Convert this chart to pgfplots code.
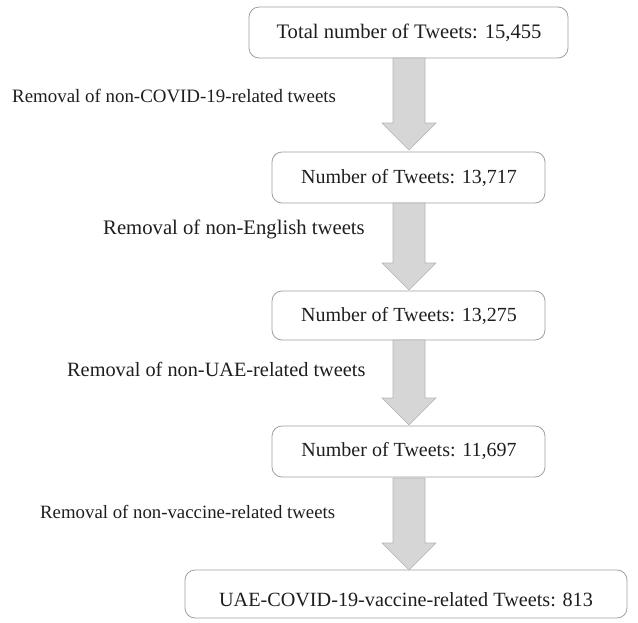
\documentclass[border=0pt]{standalone}
\usepackage{fontspec}
\setmainfont{Liberation Serif}
\usepackage{pgfplots}
\pgfplotsset{compat=1.18}
\definecolor{arrfill}{HTML}{D6D6D6}
\definecolor{arredge}{HTML}{B4B4B4}
\definecolor{boxedge}{HTML}{A0A0A0}
\definecolor{txt}{HTML}{1E1E1E}
\tikzset{lbl/.style={font=\fontsize{#1}{24}\selectfont, text=txt}, lbl/.default=20}
\begin{document}
\begin{tikzpicture}
\begin{axis}[
  width=638pt, height=622pt, scale only axis,
  xmin=0, xmax=638, ymin=0, ymax=622, y dir=reverse,
  axis lines=none, clip=false,
]
% boxes
\draw[boxedge, rounded corners=10pt, line width=0.8pt] (axis cs:249,7) rectangle (axis cs:568,58);
\draw[boxedge, rounded corners=10pt, line width=0.8pt] (axis cs:272,152) rectangle (axis cs:545,203);
\draw[boxedge, rounded corners=10pt, line width=0.8pt] (axis cs:272,291) rectangle (axis cs:545,340);
\draw[boxedge, rounded corners=10pt, line width=0.8pt] (axis cs:272,426) rectangle (axis cs:545,477);
\draw[boxedge, rounded corners=10pt, line width=0.8pt] (axis cs:185,570) rectangle (axis cs:627,618);
% arrows
\addplot[fill=arrfill, draw=arredge, line width=0.6pt] coordinates {(393,58) (425,58) (425,123) (436,123) (409,150) (382,123) (393,123) (393,58)};
\addplot[fill=arrfill, draw=arredge, line width=0.6pt] coordinates {(393,203) (425,203) (425,263) (436,263) (409,290) (382,263) (393,263) (393,203)};
\addplot[fill=arrfill, draw=arredge, line width=0.6pt] coordinates {(393,340) (425,340) (425,398) (436,398) (409,425) (382,398) (393,398) (393,340)};
\addplot[fill=arrfill, draw=arredge, line width=0.6pt] coordinates {(393,478) (425,478) (425,543) (436,543) (409,570) (382,543) (393,543) (393,478)};
% box texts
\node[lbl=20.6] at (axis cs:409,33) {Total number of Tweets: 15,455};
\node[lbl=20] at (axis cs:409,178) {Number of Tweets: 13,717};
\node[lbl=20] at (axis cs:409,316) {Number of Tweets: 13,275};
\node[lbl=20] at (axis cs:409,451) {Number of Tweets: 11,697};
\node[lbl=20.2] at (axis cs:406,600) {UAE-COVID-19-vaccine-related Tweets: 813};
% step labels
\node[lbl=18.9, anchor=west, inner sep=0pt] at (axis cs:12,96) {Removal of non-COVID-19-related tweets};
\node[lbl=20.7, anchor=west, inner sep=0pt] at (axis cs:103,229) {Removal of non-English tweets};
\node[lbl=20.3, anchor=west, inner sep=0pt] at (axis cs:67,369) {Removal of non-UAE-related tweets};
\node[lbl=18.8, anchor=west, inner sep=0pt] at (axis cs:40,512) {Removal of non-vaccine-related tweets};
\end{axis}
\pgfresetboundingbox
\path (0,0) rectangle (638pt,622pt);
\end{tikzpicture}
\end{document}
